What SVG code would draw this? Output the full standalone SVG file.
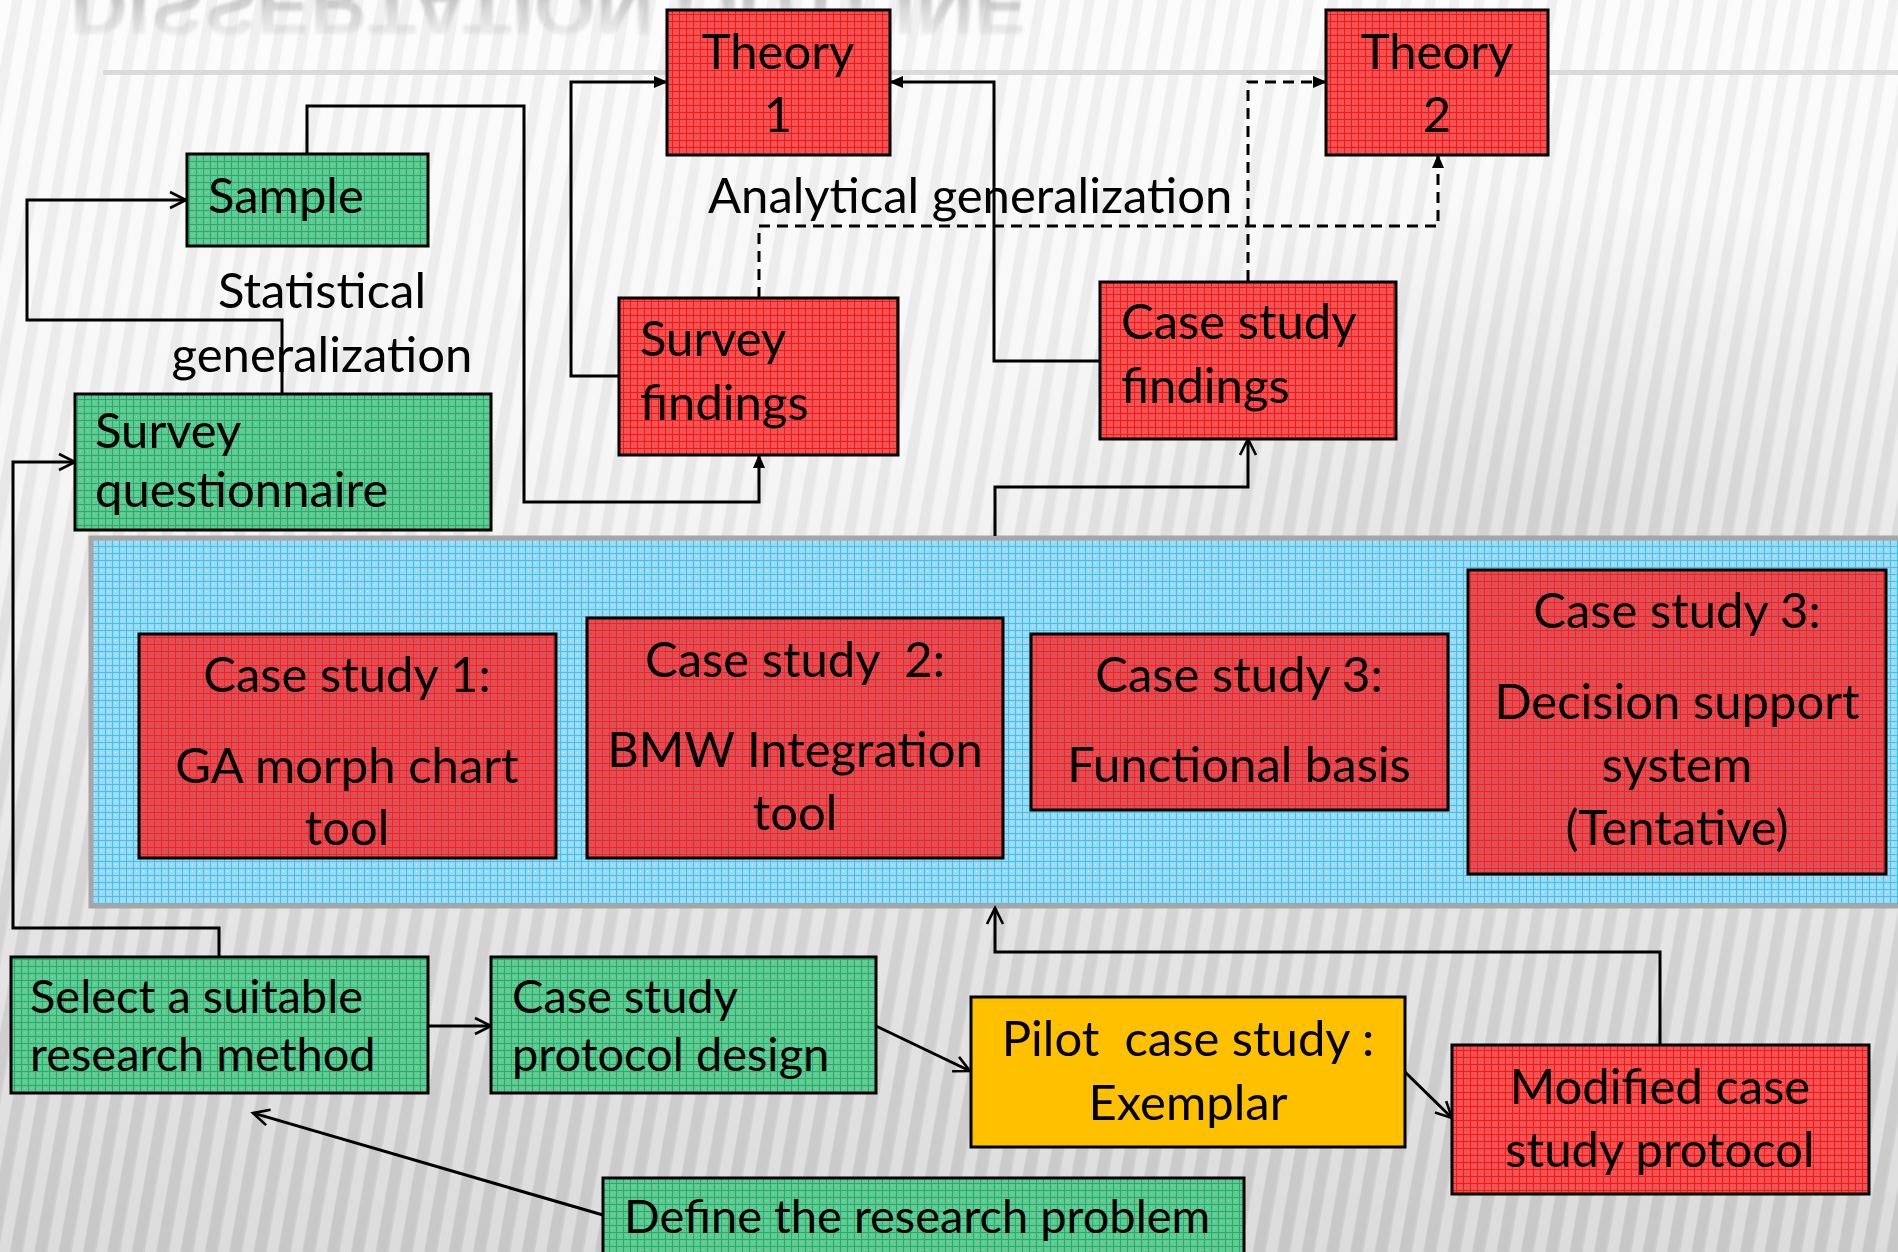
<svg xmlns="http://www.w3.org/2000/svg" width="1898" height="1252" viewBox="0 0 1898 1252">
<defs>
  <linearGradient id="bgGrad" x1="0" y1="0" x2="0" y2="1">
    <stop offset="0" stop-color="#fbfbfb"/>
    <stop offset="0.35" stop-color="#f3f3f3"/>
    <stop offset="0.7" stop-color="#dcdcdc"/>
    <stop offset="1" stop-color="#cdcdcd"/>
  </linearGradient>
  <radialGradient id="shade" cx="0.5" cy="0.5" r="0.5">
    <stop offset="0" stop-color="#bdbdbd" stop-opacity="0.5"/>
    <stop offset="1" stop-color="#bdbdbd" stop-opacity="0"/>
  </radialGradient>
  <pattern id="stripes" width="24" height="24" patternUnits="userSpaceOnUse" patternTransform="rotate(10)">
    <rect x="0" y="0" width="11" height="24" fill="#ffffff" fill-opacity="0.3"/>
    <rect x="12" y="0" width="10" height="24" fill="#9a9a9a" fill-opacity="0.1"/>
  </pattern>
  <linearGradient id="titleGrad" x1="0" y1="0" x2="0" y2="1" gradientUnits="objectBoundingBox">
    <stop offset="0" stop-color="#9a9a9a" stop-opacity="0"/>
    <stop offset="0.45" stop-color="#9a9a9a" stop-opacity="0.35"/>
    <stop offset="1" stop-color="#8a8a8a" stop-opacity="0.9"/>
  </linearGradient>
  <filter id="soft" x="-5%" y="-20%" width="110%" height="140%">
    <feGaussianBlur stdDeviation="1.6"/>
  </filter>
  <pattern id="pRed" width="7" height="7" patternUnits="userSpaceOnUse">
    <rect width="7" height="7" fill="#f05454"/>
    <path d="M0,0.5H7M0.5,0V7" stroke="#ff1414" stroke-width="1"/>
    <rect x="3" y="3" width="1" height="1" fill="#c06060"/>
  </pattern>
  <pattern id="pRed2" width="7" height="7" patternUnits="userSpaceOnUse">
    <rect width="7" height="7" fill="#dc5058"/>
    <path d="M0,0.5H7M0.5,0V7" stroke="#ff1e1e" stroke-width="1"/>
    <rect x="3" y="3" width="1" height="1" fill="#a85a64"/>
  </pattern>
  <pattern id="pGreen" width="7" height="7" patternUnits="userSpaceOnUse">
    <rect width="7" height="7" fill="#62c995"/>
    <path d="M0,0.5H7M0.5,0V7" stroke="#22b066" stroke-width="1"/>
    <rect x="3" y="3" width="1" height="1" fill="#8ad4ae"/>
  </pattern>
  <pattern id="pBlue" width="7" height="7" patternUnits="userSpaceOnUse">
    <rect width="7" height="7" fill="#9cdaf2"/>
    <path d="M0,0.5H7M0.5,0V7" stroke="#40c0ec" stroke-width="1"/>
    <rect x="3" y="3" width="1" height="1" fill="#d2eef8"/>
  </pattern>
  <marker id="tri" viewBox="0 0 14 12" refX="13" refY="6" markerWidth="14" markerHeight="12" markerUnits="userSpaceOnUse" orient="auto">
    <path d="M0,0 L14,6 L0,12 z" fill="#000"/>
  </marker>
  <marker id="open" viewBox="-1 -1 20 20" refX="17" refY="9" markerWidth="20" markerHeight="20" markerUnits="userSpaceOnUse" orient="auto" overflow="visible">
    <path d="M1,1 L17,9 L1,17" fill="none" stroke="#000" stroke-width="2.6"/>
  </marker>
  <style>
    .box { stroke: #000; stroke-width: 3; }
    .red { fill: url(#pRed); }
    .red2 { fill: url(#pRed2); }
    .green { fill: url(#pGreen); }
    .yellow { fill: #ffc000; }
    .t { font-family: Lato, "Liberation Sans", sans-serif; font-size: 49px; fill: #000; }
    .s { font-size: 47px; }
    .c { text-anchor: middle; }
    .ln { fill: none; stroke: #000; stroke-width: 3; }
    .dash { stroke-dasharray: 11 7; }
  </style>
</defs>

<!-- background -->
<rect x="0" y="0" width="1898" height="1252" fill="url(#bgGrad)"/>
<ellipse cx="1560" cy="520" rx="620" ry="330" fill="url(#shade)"/>
<rect x="0" y="0" width="1898" height="1252" fill="url(#stripes)"/>

<!-- reflected title -->
<g id="title" filter="url(#soft)">
  <text x="70" y="0" transform="translate(0,-21) scale(1,-1)" font-family="'Liberation Sans', Arial, sans-serif" font-weight="bold" font-size="80" fill="url(#titleGrad)">DISSERTATION OUTLINE</text>
</g>
<rect x="103" y="70" width="1795" height="5" fill="#dadada"/>

<!-- container -->
<g id="container">
  <rect x="91" y="538" width="1830" height="368" fill="url(#pBlue)" stroke="#a6a6a6" stroke-width="5"/>
</g>

<!-- connectors -->
<g id="connectors">
  <path class="ln" d="M282,393 V320 H27 V200 H186" marker-end="url(#open)"/>
  <path class="ln" d="M307,154 V106 H524 V502 H759 V455" marker-end="url(#tri)"/>
  <path class="ln" d="M619,376 H571 V82 H667" marker-end="url(#tri)"/>
  <path class="ln" d="M1100,361 H994 V82 H890" marker-end="url(#tri)"/>
  <path class="ln dash" d="M759,298 V226 H1438 V155" marker-end="url(#tri)"/>
  <path class="ln dash" d="M1248,281 V82 H1326" marker-end="url(#tri)"/>
  <path class="ln" d="M995,536 V487 H1248 V439" marker-end="url(#open)"/>
  <path class="ln" d="M219,957 V928 H13 V462 H75" marker-end="url(#open)"/>
  <path class="ln" d="M428,1026 H491" marker-end="url(#open)"/>
  <path class="ln" d="M876,1026 L970,1071" marker-end="url(#open)"/>
  <path class="ln" d="M1405,1072 L1452,1118" marker-end="url(#open)"/>
  <path class="ln" d="M1660,1045 V952 H995 V908" marker-end="url(#open)"/>
  <path class="ln" d="M603,1215 L253,1113" marker-end="url(#open)"/>
</g>

<!-- free labels -->
<g id="labels">
  <text class="t c" x="322" y="308">Statistical</text>
  <text class="t c" x="322" y="372">generalization</text>
  <text class="t" x="708" y="213">Analytical generalization</text>
</g>

<!-- nodes -->
<g id="theory1">
  <rect class="box red" x="667" y="10" width="223" height="145"/>
  <text class="t c" x="778" y="69">Theory</text>
  <text class="t c" x="778" y="132">1</text>
</g>
<g id="theory2">
  <rect class="box red" x="1326" y="10" width="222" height="145"/>
  <text class="t c" x="1437" y="69">Theory</text>
  <text class="t c" x="1437" y="132">2</text>
</g>
<g id="sample">
  <rect class="box green" x="187" y="154" width="241" height="92"/>
  <text class="t" x="208" y="213">Sample</text>
</g>
<g id="survey-questionnaire">
  <rect class="box green" x="75" y="394" width="416" height="136"/>
  <text class="t" x="95" y="448">Survey</text>
  <text class="t" x="95" y="507">questionnaire</text>
</g>
<g id="survey-findings">
  <rect class="box red" x="619" y="298" width="279" height="157"/>
  <text class="t" x="640" y="356">Survey</text>
  <text class="t" x="640" y="420">findings</text>
</g>
<g id="case-study-findings">
  <rect class="box red" x="1100" y="282" width="296" height="157"/>
  <text class="t" x="1121" y="339">Case study</text>
  <text class="t" x="1121" y="403">findings</text>
</g>
<g id="case-study-1">
  <rect class="box red2" x="139" y="634" width="417" height="224"/>
  <text class="t c" x="347" y="692">Case study 1:</text>
  <text class="t c" x="347" y="783">GA morph chart</text>
  <text class="t c" x="347" y="845">tool</text>
</g>
<g id="case-study-2">
  <rect class="box red2" x="587" y="618" width="416" height="240"/>
  <text class="t c" x="795" y="677" xml:space="preserve">Case study  2:</text>
  <text class="t c" x="795" y="767">BMW Integration</text>
  <text class="t c" x="795" y="830">tool</text>
</g>
<g id="case-study-3a">
  <rect class="box red2" x="1031" y="634" width="417" height="176"/>
  <text class="t c" x="1239" y="692">Case study 3:</text>
  <text class="t c" x="1239" y="782">Functional basis</text>
</g>
<g id="case-study-3b">
  <rect class="box red2" x="1468" y="570" width="418" height="304"/>
  <text class="t c" x="1677" y="628">Case study 3:</text>
  <text class="t c" x="1677" y="719">Decision support</text>
  <text class="t c" x="1677" y="782">system</text>
  <text class="t c" x="1677" y="845">(Tentative)</text>
</g>
<g id="select-method">
  <rect class="box green" x="11" y="957" width="417" height="136"/>
  <text class="t s" x="30" y="1013">Select a suitable</text>
  <text class="t s" x="30" y="1071">research method</text>
</g>
<g id="protocol-design">
  <rect class="box green" x="491" y="957" width="385" height="136"/>
  <text class="t s" x="512" y="1013">Case study</text>
  <text class="t s" x="512" y="1071">protocol design</text>
</g>
<g id="pilot">
  <rect class="box yellow" x="971" y="997" width="434" height="150"/>
  <text class="t c" x="1188" y="1056" xml:space="preserve">Pilot  case study :</text>
  <text class="t c" x="1188" y="1120">Exemplar</text>
</g>
<g id="modified-protocol">
  <rect class="box red" x="1452" y="1045" width="417" height="149"/>
  <text class="t c" x="1660" y="1104">Modified case</text>
  <text class="t c" x="1660" y="1167">study protocol</text>
</g>
<g id="define-problem">
  <rect class="box green" x="603" y="1178" width="641" height="90"/>
  <text class="t s" x="624" y="1233">Define the research problem</text>
</g>
</svg>
